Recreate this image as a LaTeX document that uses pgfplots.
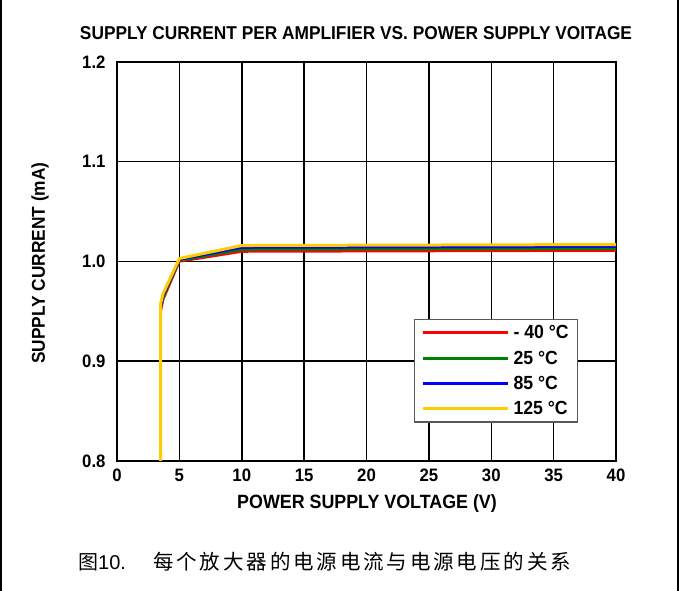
\documentclass[border=0pt]{standalone}
\usepackage{fontspec}
\setmainfont{Liberation Sans}[FakeStretch=0.93]
\newfontfamily\cjk{Noto Sans CJK SC}
\usepackage{pgfplots}
\pgfplotsset{compat=1.18}
\definecolor{cred}{RGB}{255,0,0}
\definecolor{cgreen}{RGB}{0,128,0}
\definecolor{cblue}{RGB}{0,0,255}
\definecolor{cyellow}{RGB}{255,204,0}
\begin{document}
\begin{tikzpicture}[x=1bp,y=1bp]
\path[use as bounding box] (0,0) rectangle (680,591);
\draw[line width=1.5bp] (1,0) -- (1,591);
\draw[line width=1.5bp] (678,0) -- (678,591);
\begin{axis}[
  at={(117bp,130bp)}, anchor=south west,
  scale only axis, width=499bp, height=399bp,
  xmin=0, xmax=40, ymin=0.8, ymax=1.2,
  xtick={0,5,...,40}, ytick={0.8,0.9,1.0,1.1,1.2},
  yticklabel style={/pgf/number format/fixed,/pgf/number format/fixed zerofill,/pgf/number format/precision=1, xshift=-8bp},
  xticklabel style={yshift=-5bp, text height=12bp, text depth=0bp},
  /pgf/number format/assume math mode=true,
  tick label style={font=\fontsize{18bp}{20bp}\selectfont\bfseries},
  major tick length=0pt,
  grid=major, major grid style={black, line width=1.5bp},
  axis line style={line width=2.6bp},
  legend style={at={(rel axis cs:0.595,0.356)}, anchor=north west, draw=black!65, line width=1.2bp,
    font=\fontsize{19bp}{20bp}\selectfont\bfseries, inner xsep=7bp, inner ysep=4bp,
    row sep=6.5bp, column sep=2bp},
  legend cell align=left,
  legend image code/.code={\draw[#1, line width=3bp] (0bp,0bp) -- (85bp,0bp);},
]
\addplot[cred, line width=2.5bp] coordinates {(3.5,0.8) (3.5,0.950) (3.7,0.962) (5,1.000) (10,1.010) (40,1.011)};
\addplot[cgreen, line width=2.5bp] coordinates {(3.5,0.8) (3.5,0.953) (3.7,0.964) (5,1.001) (10,1.012) (40,1.013)};
\addplot[cblue, line width=2.5bp] coordinates {(3.5,0.8) (3.5,0.955) (3.7,0.966) (5,1.002) (10,1.014) (40,1.015)};
\addplot[cyellow, line width=3bp] coordinates {(3.5,0.8) (3.5,0.958) (3.7,0.968) (5,1.003) (10,1.016) (40,1.017)};
\legend{- 40 °C, 25 °C, 85 °C, 125 °C}
\end{axis}
\node[font=\fontsize{18.6bp}{20bp}\selectfont\bfseries] at (356,558) {SUPPLY CURRENT PER AMPLIFIER VS. POWER SUPPLY VOITAGE};
\node[font=\fontsize{19.2bp}{21bp}\selectfont\bfseries] at (367,87) {POWER SUPPLY VOLTAGE (V)};
\node[font=\fontsize{18.6bp}{20bp}\selectfont\bfseries, rotate=90] at (40,328) {SUPPLY CURRENT (mA)};
\node[anchor=base west, font=\fontsize{20bp}{21bp}\selectfont\cjk, inner sep=0] at (78,21) {图\fontspec{Liberation Sans}10.};
\node[anchor=base west, font=\fontsize{20.5bp}{21bp}\selectfont\cjk\addfontfeature{LetterSpace=14}, inner sep=0] at (153,21) {每个放大器的电源电流与电源电压的关系};
\end{tikzpicture}
\end{document}
